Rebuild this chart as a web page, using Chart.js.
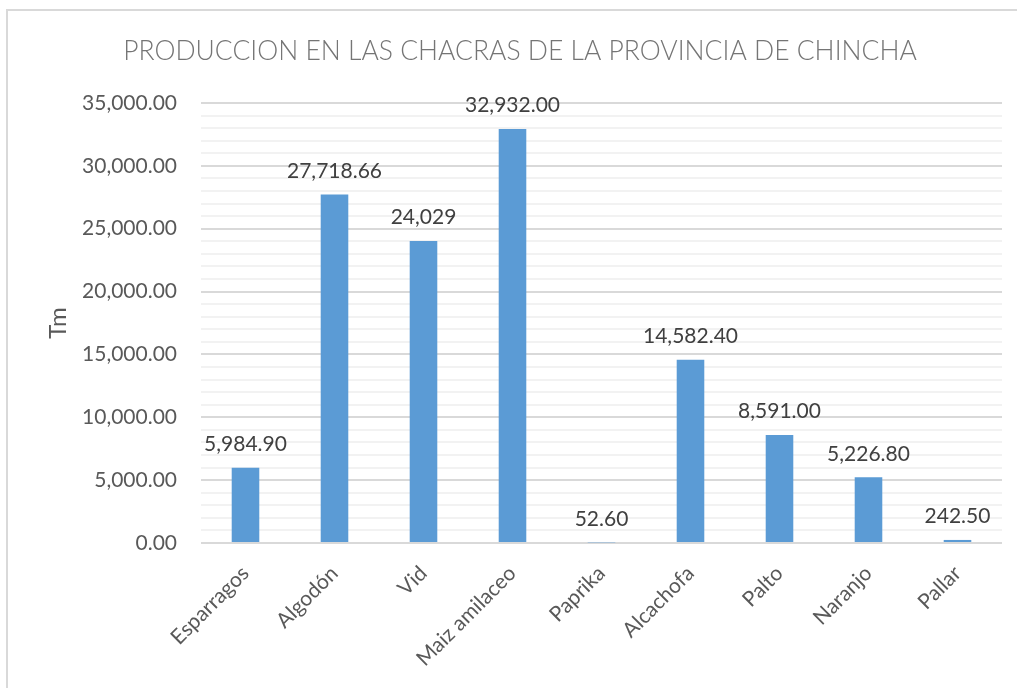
<!DOCTYPE html>
<html>
<head>
<meta charset="utf-8">
<script src="https://cdn.jsdelivr.net/npm/chart.js@4.4.0/dist/chart.umd.min.js"></script>
<style>
  html, body { margin: 0; padding: 0; background: #fff; }
  #wrap { position: relative; width: 1017px; height: 688px; overflow: hidden; }
  #frame { position: absolute; left: 6px; top: 9px; width: 1100px; height: 800px; border: 2px solid #D9D9D9; box-sizing: border-box; }
  canvas { position: absolute; left: 0; top: 0; }
</style>
</head>
<body>
<div id="wrap">
  <div id="frame"></div>
  <canvas id="c" width="1017" height="688"></canvas>
</div>
<script>
const titleText = "PRODUCCION EN LAS CHACRAS DE LA PROVINCIA DE CHINCHA";
const categories = ["Esparragos", "Algodón", "Vid", "Maiz amilaceo", "Paprika", "Alcachofa", "Palto", "Naranjo", "Pallar"];
const values = [5984.90, 27718.66, 24029, 32932.00, 52.60, 14582.40, 8591.00, 5226.80, 242.50];
const valueLabels = ["5,984.90", "27,718.66", "24,029", "32,932.00", "52.60", "14,582.40", "8,591.00", "5,226.80", "242.50"];
const yAxisTitle = "Tm";
const yMax = 35000;
const yStep = 1000;
const yLabelStep = 5000;

const FONT = "Lato, 'Open Sans', sans-serif";

const titlePlugin = {
  id: 'customTitle',
  afterDraw(chart) {
    const ctx = chart.ctx;
    ctx.save();
    ctx.font = "300 26.5px " + FONT;
    ctx.fillStyle = "#757575";
    ctx.textAlign = "center";
    ctx.textBaseline = "middle";
    ctx.fillText(titleText, 520, 51);
    ctx.restore();
  }
};

const labelPlugin = {
  id: 'valueLabels',
  afterDatasetsDraw(chart) {
    const ctx = chart.ctx;
    const meta = chart.getDatasetMeta(0);
    ctx.save();
    ctx.font = "21px " + FONT;
    ctx.fillStyle = "#404040";
    ctx.textAlign = "center";
    ctx.textBaseline = "bottom";
    meta.data.forEach((bar, i) => {
      ctx.fillText(valueLabels[i], bar.x, bar.y - 13);
    });
    ctx.restore();
  }
};

new Chart(document.getElementById('c'), {
  type: 'bar',
  data: {
    labels: categories,
    datasets: [{
      data: values,
      backgroundColor: '#5B9BD5',
      borderWidth: 0,
      categoryPercentage: 1,
      barPercentage: 0.31
    }]
  },
  options: {
    responsive: false,
    animation: false,
    layout: { padding: { left: 44, right: 15, top: 103, bottom: 0 } },
    plugins: { legend: { display: false }, title: { display: false }, tooltip: { enabled: false } },
    scales: {
      x: {
        grid: { display: false },
        border: { display: false },
        ticks: {
          font: { family: FONT, size: 21 },
          color: '#595959',
          minRotation: 45,
          maxRotation: 45,
          padding: 10,
          autoSkip: false
        },
        afterFit(scale) { scale.height = 145; }
      },
      y: {
        min: 0,
        max: yMax,
        border: { display: false },
        grid: {
          drawTicks: false,
          color: (c) => (c.tick && c.tick.value % yLabelStep === 0) ? '#D9D9D9' : '#F2F2F2',
          lineWidth: 2
        },
        ticks: {
          stepSize: yStep,
          autoSkip: false,
          padding: 24,
          font: { family: FONT, size: 21 },
          color: '#595959',
          callback: (v) => v % yLabelStep === 0 ? v.toLocaleString('en-US', { minimumFractionDigits: 2, maximumFractionDigits: 2 }) : ''
        },
        title: {
          display: true,
          text: yAxisTitle,
          font: { family: FONT, size: 24 },
          color: '#595959',
          padding: 0
        },
        afterFit(scale) { scale.width = 157; }
      }
    }
  },
  plugins: [titlePlugin, labelPlugin]
});
</script>
</body>
</html>
